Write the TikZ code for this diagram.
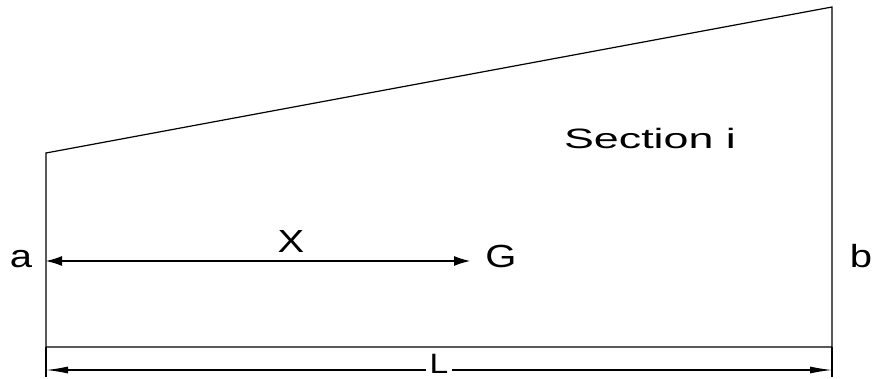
\documentclass[tikz,border=0pt]{standalone}
\usepackage{fontspec}
\setmainfont{Liberation Sans}
\usetikzlibrary{arrows.meta}

\begin{document}
\begin{tikzpicture}[
  x=0.5pt,
  y=-0.5pt,
  edge/.style={
    line width=0.6pt
  },
  lbl/.style={
    font=\fontsize{16}{18}\selectfont,
    inner sep=0pt,
    anchor=base
  },
  sml/.style={
    font=\fontsize{14}{16}\selectfont,
    inner sep=0pt,
    anchor=base
  },
  arr/.style={
    {Latex[length=8pt,width=5pt]}-{Latex[length=8pt,width=5pt]},
    line width=0.6pt
  },
  dim/.style={
    {Latex[length=11pt,width=3.5pt]}-{Latex[length=11pt,width=3.5pt]},
    line width=0.6pt
  }
]

\useasboundingbox (0,0) rectangle (872,379);

% =========================================================
% SECCIÓN
% =========================================================

\coordinate (p1) at (46,153);
\coordinate (p2) at (832,7);
\coordinate (p3) at (832,347);
\coordinate (p4) at (46,347);

\draw[edge] (p1) -- (p2) -- (p3) -- (p4) -- cycle;

% --- Líneas de referencia ---

\coordinate (e1) at (46,377);
\coordinate (e2) at (832,377);

\draw[edge] (p4) -- (e1);
\draw[edge] (p3) -- (e2);


% =========================================================
% ETIQUETAS
% =========================================================

\node[lbl] (a) at (21,267) {\scalebox{1.25}[1]{a}};

\node[lbl] (b) at (861,268) {\scalebox{1.25}[1]{b}};

\node[lbl] (G) at (501,267) {\scalebox{1.25}[1]{G}};

\node[lbl] (X) at (291,253) {\scalebox{1.25}[1]{X}};

\node[sml] (sec) at (650,149) {\scalebox{1.6}[1]{Section i}};


% =========================================================
% COTAS
% =========================================================

\coordinate (xa) at (46,261);

\draw[arr, shorten >=7.5pt]
  (xa) -- (xa -| G.west);

\coordinate (d1) at (46,370);
\coordinate (d2) at (832,370);

\draw[dim]
  (d1) -- node[
    sml,
    anchor=center,
    yshift=3pt,
    fill=white,
    inner xsep=2pt
  ] (L) {\scalebox{1.2}[1]{L}} (d2);

\end{tikzpicture}
\end{document}
